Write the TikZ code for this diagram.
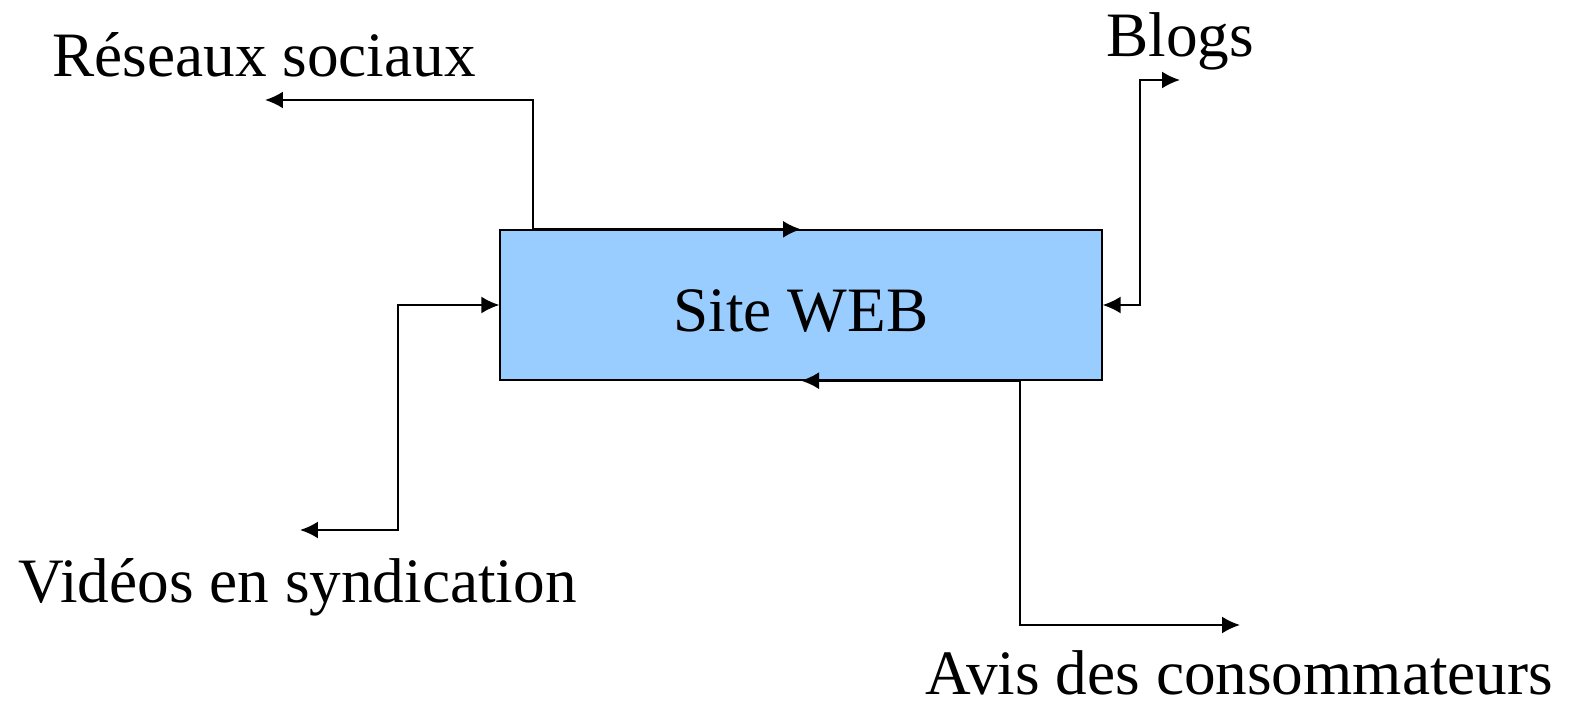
\documentclass[tikz,border=0pt]{standalone}
\usepackage{fontspec}
\setmainfont{Liberation Serif}
\usetikzlibrary{arrows.meta}
\definecolor{boxblue}{HTML}{99CCFF}

\begin{document}
\begin{tikzpicture}[
    x=0.02cm, y=-0.02cm,
    font=\fontsize{36}{43}\selectfont,
    site/.style={draw=black, line width=0.8pt, fill=boxblue, minimum width=12.04cm,
        minimum height=3cm, inner sep=0pt, text height=30pt, text depth=0pt},
    label/.style={anchor=base west, inner sep=0pt},
    link/.style={{Latex[length=0.36cm,width=0.34cm]}-{Latex[length=0.36cm,width=0.34cm]},
        line width=1.2pt, draw=black}
]
\useasboundingbox (0,0) rectangle (1576,705);
\node[site] (site) at (801,305) {Site WEB};
\node[label] (reseaux) at (52,77) {Réseaux sociaux};
\node[label] (blogs) at (1106,57) {Blogs};
\node[label] (videos) at (18,603) {Vidéos en syndication};
\node[label] (avis) at (925,694) {Avis des consommateurs};
\coordinate (rs) at (265,100);
\coordinate (rsbend) at (533,100);
\coordinate (bg) at (1180,80);
\coordinate (bgbend) at (1140,80);
\coordinate (vd) at (300,530);
\coordinate (vdbend) at (398,305);
\coordinate (av) at (1240,625);
\coordinate (avbend) at (1020,625);
\draw[link] (rs) -- (rsbend) -- (rsbend |- site.north) -- (site.north);
\draw[link] (site.east) -| (bgbend) -- (bg);
\draw[link] (vd) -| (vdbend) -- (site.west);
\draw[link] (site.south) -| (avbend) -- (av);
\end{tikzpicture}
\end{document}
